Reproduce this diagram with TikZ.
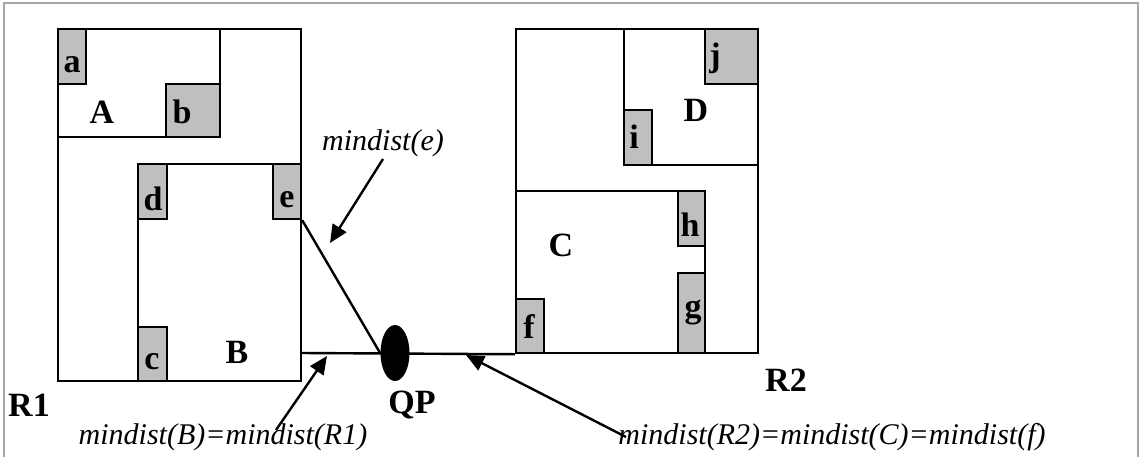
\documentclass[tikz,border=0pt]{standalone}
\usepackage{fontspec}
\setmainfont{Liberation Serif}
\usetikzlibrary{arrows.meta,shapes.geometric,fit}

\begin{document}
\begin{tikzpicture}[x=0.5pt,y=-0.5pt,>={Triangle[length=9pt,width=8pt]},
  mbr/.style={draw,line width=1.2pt,inner sep=0pt},
  leaf/.style={mbr,fill=black!25},
  tag/.style={font=\fontsize{17}{19}\selectfont\bfseries,inner sep=0pt},
  note/.style={font=\fontsize{15}{17}\selectfont\itshape,inner sep=1pt},
  pointer/.style={->,line width=1.2pt}]
  \useasboundingbox (0,0) rectangle (1140,457);
  \draw[gray!70,line width=1.2pt] (4,457) -- (4,3) -- (1138,3) -- (1138,457);
  % R1 and its children
  \node[mbr,fit={(58,29) (301,381)}] (R1) {};
  \node[mbr,fit={(58,29) (220,137)}] (A) {};
  \node[leaf,fit={(58,29) (86,84)}] (a) {};
  \node[leaf,fit={(166,84) (220,137)}] (b) {};
  \node[mbr,fit={(138,164) (301,381)}] (B) {};
  \node[leaf,fit={(138,164) (167,219)}] (d) {};
  \node[leaf,fit={(273,164) (301,219)}] (e) {};
  \node[leaf,fit={(138,327) (167,381)}] (c) {};
  % R2 and its children
  \node[mbr,fit={(516,29) (758,353)}] (R2) {};
  \node[mbr,fit={(624,29) (758,165)}] (D) {};
  \node[leaf,fit={(705,29) (758,84)}] (j) {};
  \node[leaf,fit={(624,110) (652,165)}] (i) {};
  \node[mbr,fit={(516,191) (705,353)}] (C) {};
  \node[leaf,fit={(678,191) (705,246)}] (h) {};
  \node[leaf,fit={(678,273) (705,353)}] (g) {};
  \node[leaf,fit={(516,299) (544,353)}] (f) {};
  % letters
  \node[tag] (txta) at (72,65) {a};
  \node[tag] (txtA) at (102,112) {A};
  \node[tag] (txtb) at (182,112) {b};
  \node[tag] (txtd) at (153,199) {d};
  \node[tag] (txte) at (287,200) {e};
  \node[tag] (txtc) at (152,362) {c};
  \node[tag] (txtB) at (237,352) {B};
  \node[tag] (txtj) at (715,58) {j};
  \node[tag] (txtD) at (696,110) {D};
  \node[tag] (txti) at (634,137) {i};
  \node[tag] (txth) at (690,225) {h};
  \node[tag] (txtC) at (561,245) {C};
  \node[tag] (txtg) at (693,313) {g};
  \node[tag] (txtf) at (529,327) {f};
  \node[tag] (txtR1) at (29,405) {R1};
  \node[tag] (txtR2) at (786,380) {R2};
  \node[tag] (txtQP) at (412,405) {QP};
  % query point and distances
  \node[ellipse,fill,minimum width=14.5pt,minimum height=28pt,inner sep=0pt] (QP) at (395,353) {};
  \draw[line width=1.2pt] (QP -| B.east) -- (R2.south west);
  \draw[line width=1.2pt] (e.south east) -- (QP.west);
  \node[note] (me) at (383,143) {mindist(e)};
  \node[note] (mb) at (223,437) {mindist(B)=mindist(R1)};
  \node[note] (mr) at (832,437) {mindist(R2)=mindist(C)=mindist(f)};
  \coordinate (hitE) at (330,243);
  \coordinate (hitB) at (327,356);
  \coordinate (hitR) at (466,355);
  \draw[pointer] (me.south) -- (hitE);
  \draw[pointer] ([xshift=26.5pt,yshift=3.5pt]mb.center) -- (hitB);
  \draw[pointer] ([xshift=5pt]mr.west) -- (hitR);
\end{tikzpicture}
\end{document}
